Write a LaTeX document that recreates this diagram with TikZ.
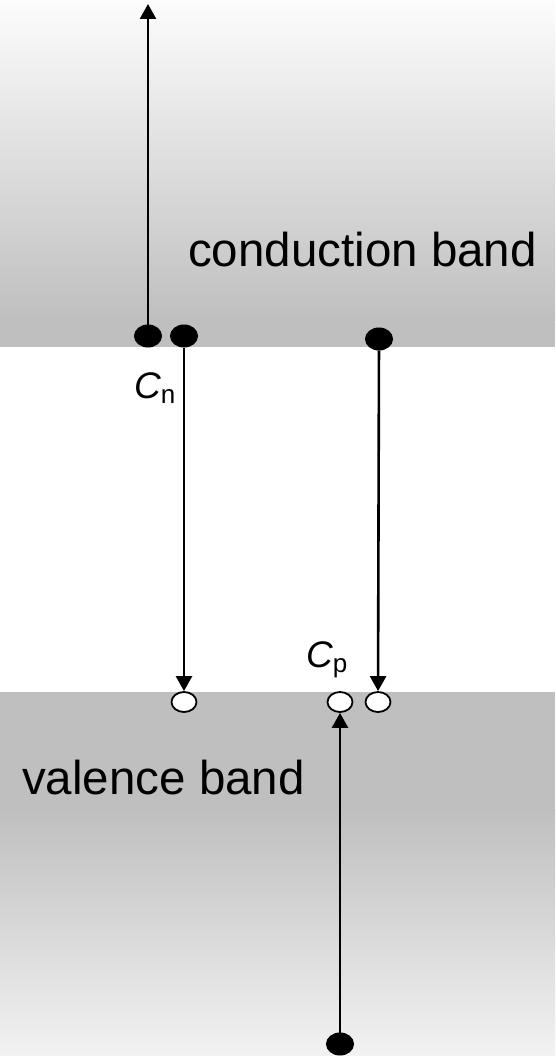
\documentclass[tikz,border=0pt]{standalone}
\usepackage{fontspec}
\setmainfont{Liberation Sans}
\usetikzlibrary{arrows.meta,shapes.geometric}
\tikzset{
  electron/.style={ellipse,fill=black,draw=black,line width=1pt,minimum width=27pt,minimum height=22pt,inner sep=0pt},
  hole/.style={ellipse,fill=white,draw=black,line width=1.8pt,minimum width=25pt,minimum height=20pt,inner sep=0pt},
  transition/.style={line width=2.6pt,-{Triangle[width=16pt,length=15pt]}},
  bandlabel/.style={inner sep=0pt,anchor=base west,font=\fontsize{47.5}{56}\selectfont},
  ratelabel/.style={inner sep=0pt,anchor=base west}
}
\newcommand{\ratesym}[1]{{\fontsize{37}{42}\selectfont\itshape C}\raisebox{-5pt}{\fontsize{26}{30}\selectfont #1}}
\begin{document}
\begin{tikzpicture}[x=1pt,y=-1pt]
\useasboundingbox (0,0) rectangle (555,1056);
% bands
\fill[white] (0,0) rectangle (555,1056);
\shade[top color=white!99!black,bottom color=black!25] (0,0) rectangle (555,320);
\fill[black!25] (0,319.5) rectangle (555,347);
\fill[black!25] (0,692) rectangle (555,810);
\shade[top color=black!25,bottom color=black!5] (0,809.5) rectangle (555,1056);
% labels
\node[bandlabel] (cb) at (188,267) {conduction band};
\node[bandlabel] (vb) at (22,794) {valence band};
\node[ratelabel] (cn) at (134,398) {\ratesym{n}};
\node[ratelabel] (cp) at (306,667) {\ratesym{p}};
% states
\node[electron] (e1) at (148,336) {};
\node[electron] (e2) at (184,336) {};
\node[electron] (e3) at (379,339) {};
\node[hole] (h1) at (184,702) {};
\node[hole] (h2) at (340,702) {};
\node[hole] (h3) at (378,702) {};
\node[electron] (e4) at (340,1044) {};
\coordinate (top) at (148,4);
% transitions
\draw[transition] (e1) -- (top);
\draw[transition] (e2) -- (h1);
\draw[transition] (e3) -- (h3);
\draw[transition] (e4) -- (h2);
\end{tikzpicture}
\end{document}
